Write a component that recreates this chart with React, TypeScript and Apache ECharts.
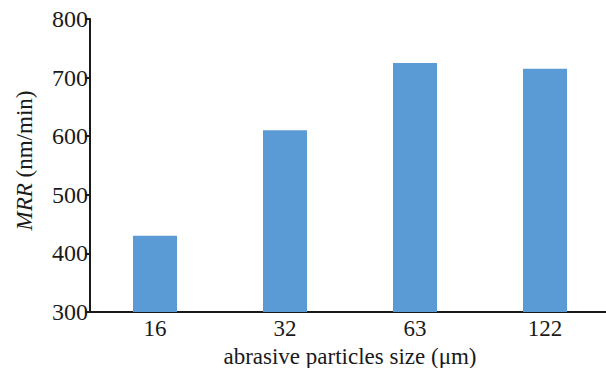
import React, { useEffect, useRef } from "react";
import * as echarts from "echarts";

const categories = ["16", "32", "63", "122"];
const mrrValues = [430, 610, 725, 715];
const yTicks = [300, 400, 500, 600, 700, 800];

export default function App() {
  const ref = useRef<HTMLDivElement>(null);
  useEffect(() => {
    if (!ref.current) return;
    const chart = echarts.init(ref.current, null, { renderer: "svg" });
    const font = "'Liberation Serif', 'Times New Roman', serif";
    chart.setOption({
      animation: false,
      backgroundColor: "#ffffff",
      grid: {
        left: 90,
        top: 19,
        width: 520,
        height: 293,
        containLabel: false,
        outerBoundsMode: "none",
      },
      xAxis: {
        type: "category",
        data: categories,
        axisLine: { show: true, lineStyle: { color: "#1a1a1a", width: 2 } },
        axisTick: { show: false },
        axisLabel: { color: "#1a1a1a", fontFamily: font, fontSize: 23, margin: 5 },
        name: "abrasive particles size (μm)",
        nameLocation: "middle",
        nameGap: 24,
        nameTextStyle: { color: "#1a1a1a", fontFamily: font, fontSize: 23, lineHeight: 24 },
      },
      yAxis: {
        type: "value",
        min: yTicks[0],
        max: yTicks[yTicks.length - 1],
        interval: 100,
        splitLine: { show: false },
        axisLine: { show: true, lineStyle: { color: "#1a1a1a", width: 2 } },
        axisTick: { show: true, length: 5, lineStyle: { color: "#1a1a1a", width: 2 } },
        axisLabel: { color: "#1a1a1a", fontFamily: font, fontSize: 24, margin: 2 },
        name: "{i|MRR} (nm/min)",
        nameLocation: "middle",
        nameGap: 54,
        nameTextStyle: {
          color: "#1a1a1a",
          fontFamily: font,
          fontSize: 23,
          padding: [0, 0, 0, 10],
          rich: { i: { fontStyle: "italic", fontFamily: font, fontSize: 23, color: "#1a1a1a" } },
        },
      },
      series: [
        {
          type: "bar",
          data: mrrValues,
          barWidth: 44,
          itemStyle: { color: "#5b9bd5" },
        },
      ],
    });
    return () => chart.dispose();
  }, []);
  return (
    <div
      ref={ref}
      style={{ position: "absolute", left: 0, top: 0, width: 606, height: 368 }}
    />
  );
}
